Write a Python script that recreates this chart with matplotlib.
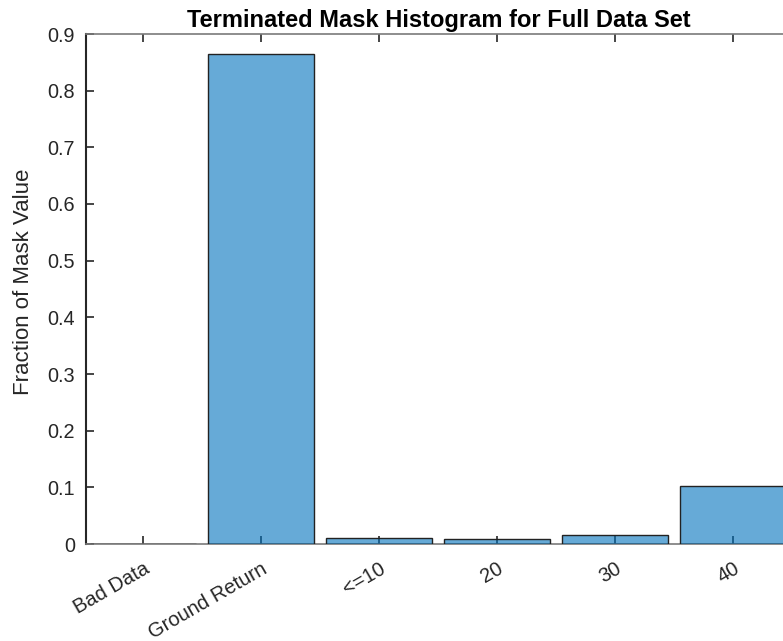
import matplotlib
matplotlib.use("Agg")
import matplotlib.pyplot as plt
import numpy as np

categories = ["Bad Data", "Ground Return", "<=10", "20", "30", "40"]
fractions = [0.0004, 0.864, 0.0106, 0.0083, 0.0164, 0.1025]
yticks = [0, 0.1, 0.2, 0.3, 0.4, 0.5, 0.6, 0.7, 0.8, 0.9]
ytick_labels = ["0", "0.1", "0.2", "0.3", "0.4", "0.5", "0.6", "0.7", "0.8", "0.9"]

plt.rcParams['font.family'] = ['Liberation Sans', 'DejaVu Sans']

W, H = 783, 641
fig = plt.figure(figsize=(W / 100, H / 100), dpi=100)
left_px, right_px, bottom_px, top_px = 86, 86 + 706, 544, 34
ax = fig.add_axes([left_px / W, (H - bottom_px) / H, (right_px - left_px) / W, (bottom_px - top_px) / H])

x = np.arange(1, len(categories) + 1)
ax.set_axisbelow(True)
ax.bar(x, fractions, width=0.9, color=(0, 0.447, 0.741, 0.6), edgecolor='#222222', linewidth=1.0, zorder=3)

ax.set_xlim(0.517, 6.5)
ax.set_ylim(0, 0.9)
ax.set_xticks(x)
ax.set_xticklabels(categories, rotation=30, ha='right', rotation_mode='anchor', fontsize=14.5, color='#262626')
ax.set_yticks(yticks)
ax.set_yticklabels(ytick_labels, fontsize=14.3, color='#262626')
ax.tick_params(axis='both', direction='in', length=6, width=1.2, color='#262626')
ax.tick_params(axis='x', top=True, pad=11)
ax.tick_params(axis='y', pad=8)

ax.spines['left'].set_color('#262626')
ax.spines['left'].set_linewidth(1.5)
for s in ['top', 'bottom']:
    ax.spines[s].set_color('#7a7a7a')
    ax.spines[s].set_linewidth(1.2)
ax.spines['right'].set_visible(False)

ax.set_ylabel("Fraction of Mask Value", fontsize=16, color='#262626')
ax.yaxis.set_label_coords(-0.074, 0.515)
ax.set_title("Terminated Mask Histogram for Full Data Set", fontsize=17, fontweight='bold', color='black', pad=5)

fig.savefig("out.png", dpi=100)
